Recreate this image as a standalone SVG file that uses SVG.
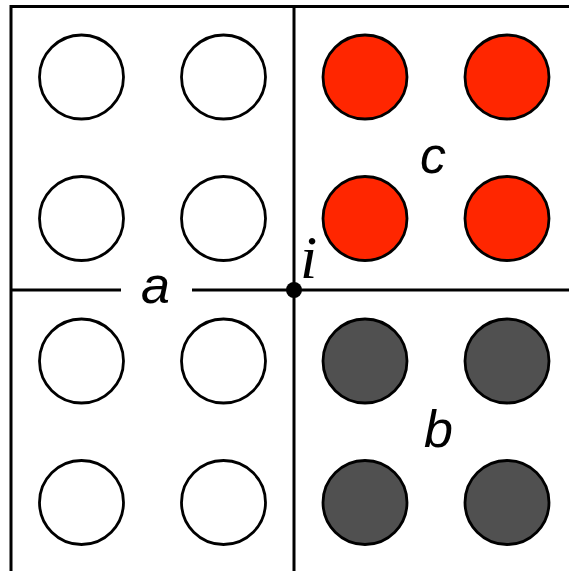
<svg xmlns="http://www.w3.org/2000/svg" width="569" height="571" viewBox="0 0 569 571">
<style>
.ln{stroke:#000;stroke-width:3;fill:none}
.c{stroke:#000;stroke-width:2.8}
.w{fill:#fff}
.r{fill:#ff2600}
.g{fill:#505050}
.lbl{font-family:"Liberation Sans",Arial,sans-serif;font-style:italic;font-size:52px;fill:#000}
.ilbl{font-family:"Liberation Serif","Times New Roman",serif;font-style:italic;font-size:62px;fill:#000}
</style>
<rect width="569" height="571" fill="#fff"/>
<g id="connectors">
<path class="ln" d="M11,571 V6.5 H569"/>
<path class="ln" d="M294,6.5 V571"/>
<path class="ln" d="M11,290 H121 M192,290 H569"/>
</g>
<g id="region-a">
<circle class="c w" cx="81.5" cy="77" r="42"/>
<circle class="c w" cx="223.5" cy="77" r="42"/>
<circle class="c w" cx="81.5" cy="218.5" r="42"/>
<circle class="c w" cx="223.5" cy="218.5" r="42"/>
<circle class="c w" cx="81.5" cy="361" r="42"/>
<circle class="c w" cx="223.5" cy="361" r="42"/>
<circle class="c w" cx="81.5" cy="502.5" r="42"/>
<circle class="c w" cx="223.5" cy="502.5" r="42"/>
<text class="lbl" x="141" y="303">a</text>
</g>
<g id="region-c">
<circle class="c r" cx="365" cy="77" r="42"/>
<circle class="c r" cx="507" cy="77" r="42"/>
<circle class="c r" cx="365" cy="218.5" r="42"/>
<circle class="c r" cx="507" cy="218.5" r="42"/>
<text class="lbl" x="420" y="173">c</text>
</g>
<g id="region-b">
<circle class="c g" cx="365" cy="361" r="42"/>
<circle class="c g" cx="507" cy="361" r="42"/>
<circle class="c g" cx="365" cy="502.5" r="42"/>
<circle class="c g" cx="507" cy="502.5" r="42"/>
<text class="lbl" x="424" y="447">b</text>
</g>
<g id="node-i">
<circle cx="294" cy="290" r="8" fill="#000"/>
<text class="ilbl" x="300" y="278">i</text>
</g>
</svg>
